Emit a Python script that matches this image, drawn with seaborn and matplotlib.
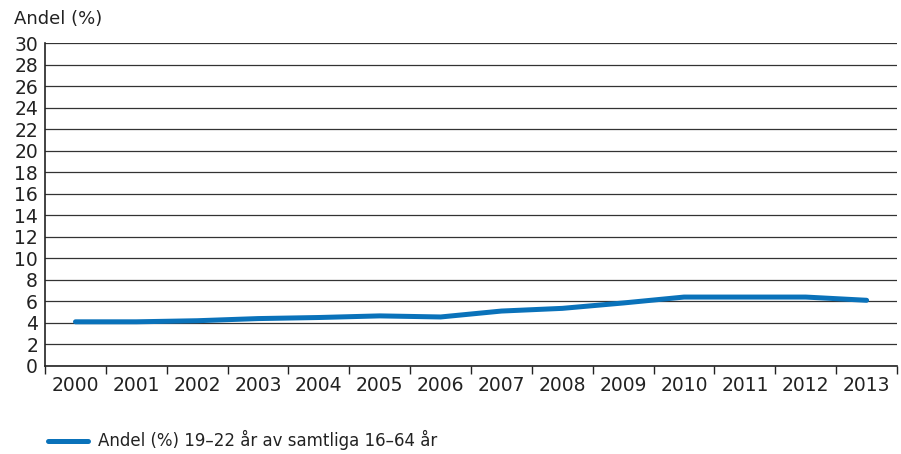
import pandas as pd
import seaborn as sns
import matplotlib.pyplot as plt
from matplotlib.ticker import FixedLocator, NullFormatter, FixedFormatter

# Data
years = ['2000', '2001', '2002', '2003', '2004', '2005', '2006',
         '2007', '2008', '2009', '2010', '2011', '2012', '2013']
andel = [4.1, 4.1, 4.2, 4.4, 4.5, 4.65, 4.55, 5.1, 5.35, 5.85, 6.4, 6.4, 6.4, 6.1]
series_label = 'Andel (%) 19–22 år av samtliga 16–64 år'

data = pd.DataFrame({'year': years, 'andel': andel})

sns.set_style('white')
plt.rcParams['font.family'] = ['DejaVu Sans']

fig = plt.figure(figsize=(9.01, 4.54), dpi=100)
ax = fig.add_axes([0.05, 0.194, 0.9456, 0.711])

sns.lineplot(data=data, x='year', y='andel', color='#0a72ba', linewidth=3.6,
             solid_capstyle='round', label=series_label, ax=ax, legend=False)

ax.set_ylim(0, 30)
ax.set_yticks(range(0, 31, 2))
ax.yaxis.grid(True, color='#333333', linewidth=0.9)
ax.set_axisbelow(True)
ax.set_xlim(-0.5, len(years) - 0.5)

# ticks at category boundaries, labels centred in each band
ax.xaxis.set_major_locator(FixedLocator([i - 0.5 for i in range(len(years) + 1)]))
ax.xaxis.set_major_formatter(NullFormatter())
ax.xaxis.set_minor_locator(FixedLocator(range(len(years))))
ax.xaxis.set_minor_formatter(FixedFormatter(years))
ax.tick_params(axis='x', which='major', bottom=True, direction='out', length=6,
               width=1, color='#222222')
ax.tick_params(axis='x', which='minor', bottom=True, length=0, pad=7,
               labelsize=13.5, labelcolor='#222222')
ax.tick_params(axis='y', length=0, pad=5, labelsize=13.5, labelcolor='#222222')

for side in ['top', 'right']:
    ax.spines[side].set_visible(False)
for side in ['left', 'bottom']:
    ax.spines[side].set_color('#222222')
    ax.spines[side].set_linewidth(1.2)

ax.set_xlabel('')
ax.set_ylabel('')
fig.text(0.015, 0.958, 'Andel (%)', fontsize=13, color='#222222', va='center')

handles, labels = ax.get_legend_handles_labels()
fig.legend(handles, labels, loc='center left', bbox_to_anchor=(0.037, 0.03),
           frameon=False, fontsize=12, handlelength=2.4, handletextpad=0.6,
           labelcolor='#222222')

plt.savefig('out.png', dpi=100)
